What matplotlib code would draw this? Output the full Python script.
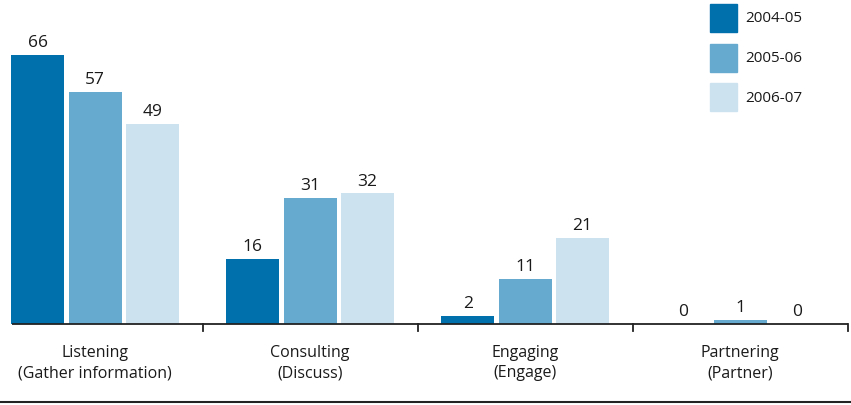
import matplotlib.pyplot as plt
from matplotlib.patches import Rectangle

categories = ["Listening\n(Gather information)", "Consulting\n(Discuss)",
              "Engaging\n(Engage)", "Partnering\n(Partner)"]
years = ["2004-05", "2005-06", "2006-07"]
v2004 = [66, 16, 2, 0]
v2005 = [57, 31, 11, 1]
v2006 = [49, 32, 21, 0]
colors = ["#0070ad", "#67aacf", "#cde2ef"]

plt.rcParams['font.family'] = ['Open Sans', 'DejaVu Sans']

fig = plt.figure(figsize=(8.51, 4.06), dpi=100)
ax = fig.add_axes([0, 0, 1, 1])
ax.set_xlim(-0.442, 3.516)
ax.set_ylim(-19.87, 79.7)
ax.axis('off')

width = 0.2465
step = 0.267
for j, (vals, c) in enumerate(zip([v2004, v2005, v2006], colors)):
    xs = [i + (j - 1) * step for i in range(len(categories))]
    ax.bar(xs, vals, width=width, color=c, zorder=2)
    for x, v in zip(xs, vals):
        ax.text(x, v + 1.2, str(v), ha='center', va='bottom', fontsize=12.5,
                color='#1a1a1a')

# baseline with group separators
ax.plot([-0.386, 3.502], [0, 0], color='#222222', lw=1.3, zorder=3,
        solid_capstyle='butt')
for t in [0.5, 1.5, 2.5, 3.5]:
    ax.plot([t, t], [0, -1.7], color='#222222', lw=1.3, zorder=3)

for i, name in enumerate(categories):
    ax.text(i, -9.3, name, ha='center', va='center', fontsize=11.5,
            color='#1a1a1a', linespacing=1.4)

# rule along the bottom
ax.plot([-0.442, 3.516], [-19.1, -19.1], color='#222222', lw=1.5,
        solid_capstyle='butt')

# legend drawn as plain squares + text
W, H = 851, 406
for k, (lab, c) in enumerate(zip(years, colors)):
    top = 5 + k * 39.5
    fig.patches.append(Rectangle((710 / W, 1 - (top + 28) / H), 27 / W, 28 / H,
                                 transform=fig.transFigure, color=c))
    fig.text(745 / W, 1 - (top + 14) / H, lab, ha='left', va='center',
             fontsize=11, color='#1a1a1a')

fig.savefig("out.png", dpi=100)
